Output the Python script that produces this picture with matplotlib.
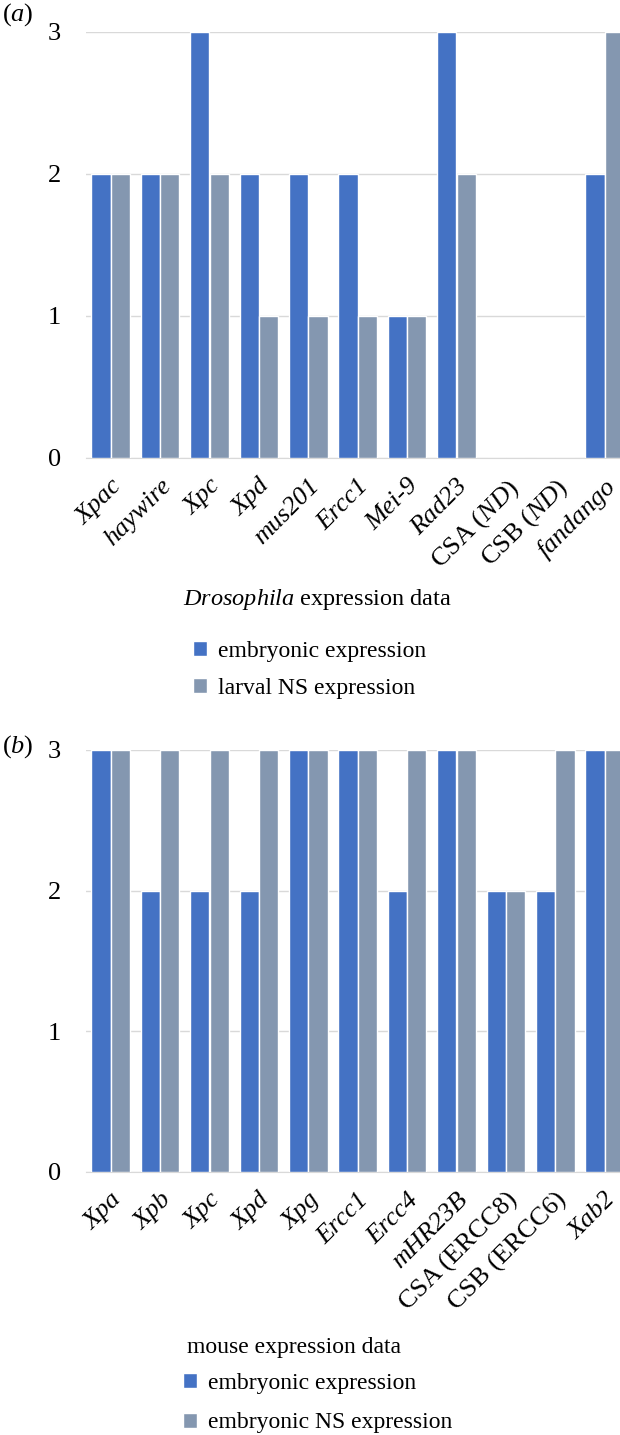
import numpy as np
import matplotlib
matplotlib.use('Agg')
import matplotlib.pyplot as plt

plt.rcParams['font.family'] = 'Liberation Serif'
plt.rcParams['mathtext.fontset'] = 'custom'
plt.rcParams['mathtext.rm'] = 'Liberation Serif'
plt.rcParams['mathtext.it'] = 'Liberation Serif:italic'

BLUE = '#4472C4'
GREY = '#8497B0'

# (a) Drosophila
fly_genes = ['Xpac', 'haywire', 'Xpc', 'Xpd', 'mus201', 'Ercc1', 'Mei-9', 'Rad23',
             'CSA $\\mathit{(ND)}$', 'CSB $\\mathit{(ND)}$', 'fandango']
fly_italic = [True, True, True, True, True, True, True, True, False, False, True]
fly_embryonic = [2, 2, 3, 2, 2, 2, 1, 3, 0, 0, 2]
fly_larval_ns = [2, 2, 2, 1, 1, 1, 1, 2, 0, 0, 3]

# (b) mouse
mouse_genes = ['Xpa', 'Xpb', 'Xpc', 'Xpd', 'Xpg', 'Ercc1', 'Ercc4', 'mHR23B',
               'CSA (ERCC8)', 'CSB (ERCC6)', 'Xab2']
mouse_italic = [True, True, True, True, True, True, True, True, False, False, True]
mouse_embryonic = [3, 2, 2, 2, 3, 3, 2, 3, 2, 2, 3]
mouse_embryonic_ns = [3, 3, 3, 3, 3, 3, 3, 3, 2, 3, 3]

W, H = 620, 1435
fig = plt.figure(figsize=(W / 100, H / 100), dpi=100)


def panel(top_px, bottom_px, genes, italic, s1, s2, lab1, lab2, title, tag, tag_y,
          title_xy, leg_xy, spacing, title_size):
    ax = fig.add_axes([86 / W, 1 - bottom_px / H, 1 - 86 / W, (bottom_px - top_px) / H])
    x = np.arange(len(genes))
    b1 = ax.bar(x - 0.197, s1, width=0.39, color=BLUE, edgecolor='white', linewidth=1, zorder=3)
    b2 = ax.bar(x + 0.197, s2, width=0.39, color=GREY, edgecolor='white', linewidth=1, zorder=3)
    ax.set_xlim(-0.5, 10.31)
    ax.set_ylim(0, 3)
    ax.set_yticks([0, 1, 2, 3])
    ax.yaxis.grid(True, color='#D9D9D9', linewidth=1, zorder=0)
    for s in ['top', 'right', 'left']:
        ax.spines[s].set_visible(False)
    ax.spines['bottom'].set_color('#D9D9D9')
    ax.tick_params(axis='y', length=0, pad=18, labelsize=19)
    ax.tick_params(axis='x', length=0, pad=12)
    ax.set_xticks(x)
    ax.set_xticklabels(genes, rotation=45, ha='right', va='top',
                       rotation_mode='anchor', fontsize=19)
    for t, it in zip(ax.get_xticklabels(), italic):
        t.set_fontstyle('italic' if it else 'normal')
    ax.set_yticklabels(['0', '1', '2', '3'])
    fig.text(2 / W, 1 - tag_y / H, tag, fontsize=19, va='center')
    fig.text(title_xy[0] / W, 1 - title_xy[1] / H, title, fontsize=title_size, va='center')
    fig.legend([b1, b2], [lab1, lab2], loc='upper left',
               bbox_to_anchor=(leg_xy[0] / W, 1 - leg_xy[1] / H), frameon=False,
               fontsize=17, borderpad=0, borderaxespad=0, handlelength=0.6,
               handleheight=0.6, handletextpad=0.45, labelspacing=spacing)
    return ax


panel(32, 458, fly_genes, fly_italic, fly_embryonic, fly_larval_ns,
      'embryonic expression', 'larval NS expression',
      '$\\mathit{Drosophila}$ expression data', '($a$)', 15,
      (183, 600), (193, 641), 0.68, 17.5)
panel(750, 1172, mouse_genes, mouse_italic, mouse_embryonic, mouse_embryonic_ns,
      'embryonic expression', 'embryonic NS expression',
      'mouse expression data', '($b$)', 747,
      (187, 1347), (183, 1373), 0.78, 17)

fig.savefig('out.png', dpi=100)
